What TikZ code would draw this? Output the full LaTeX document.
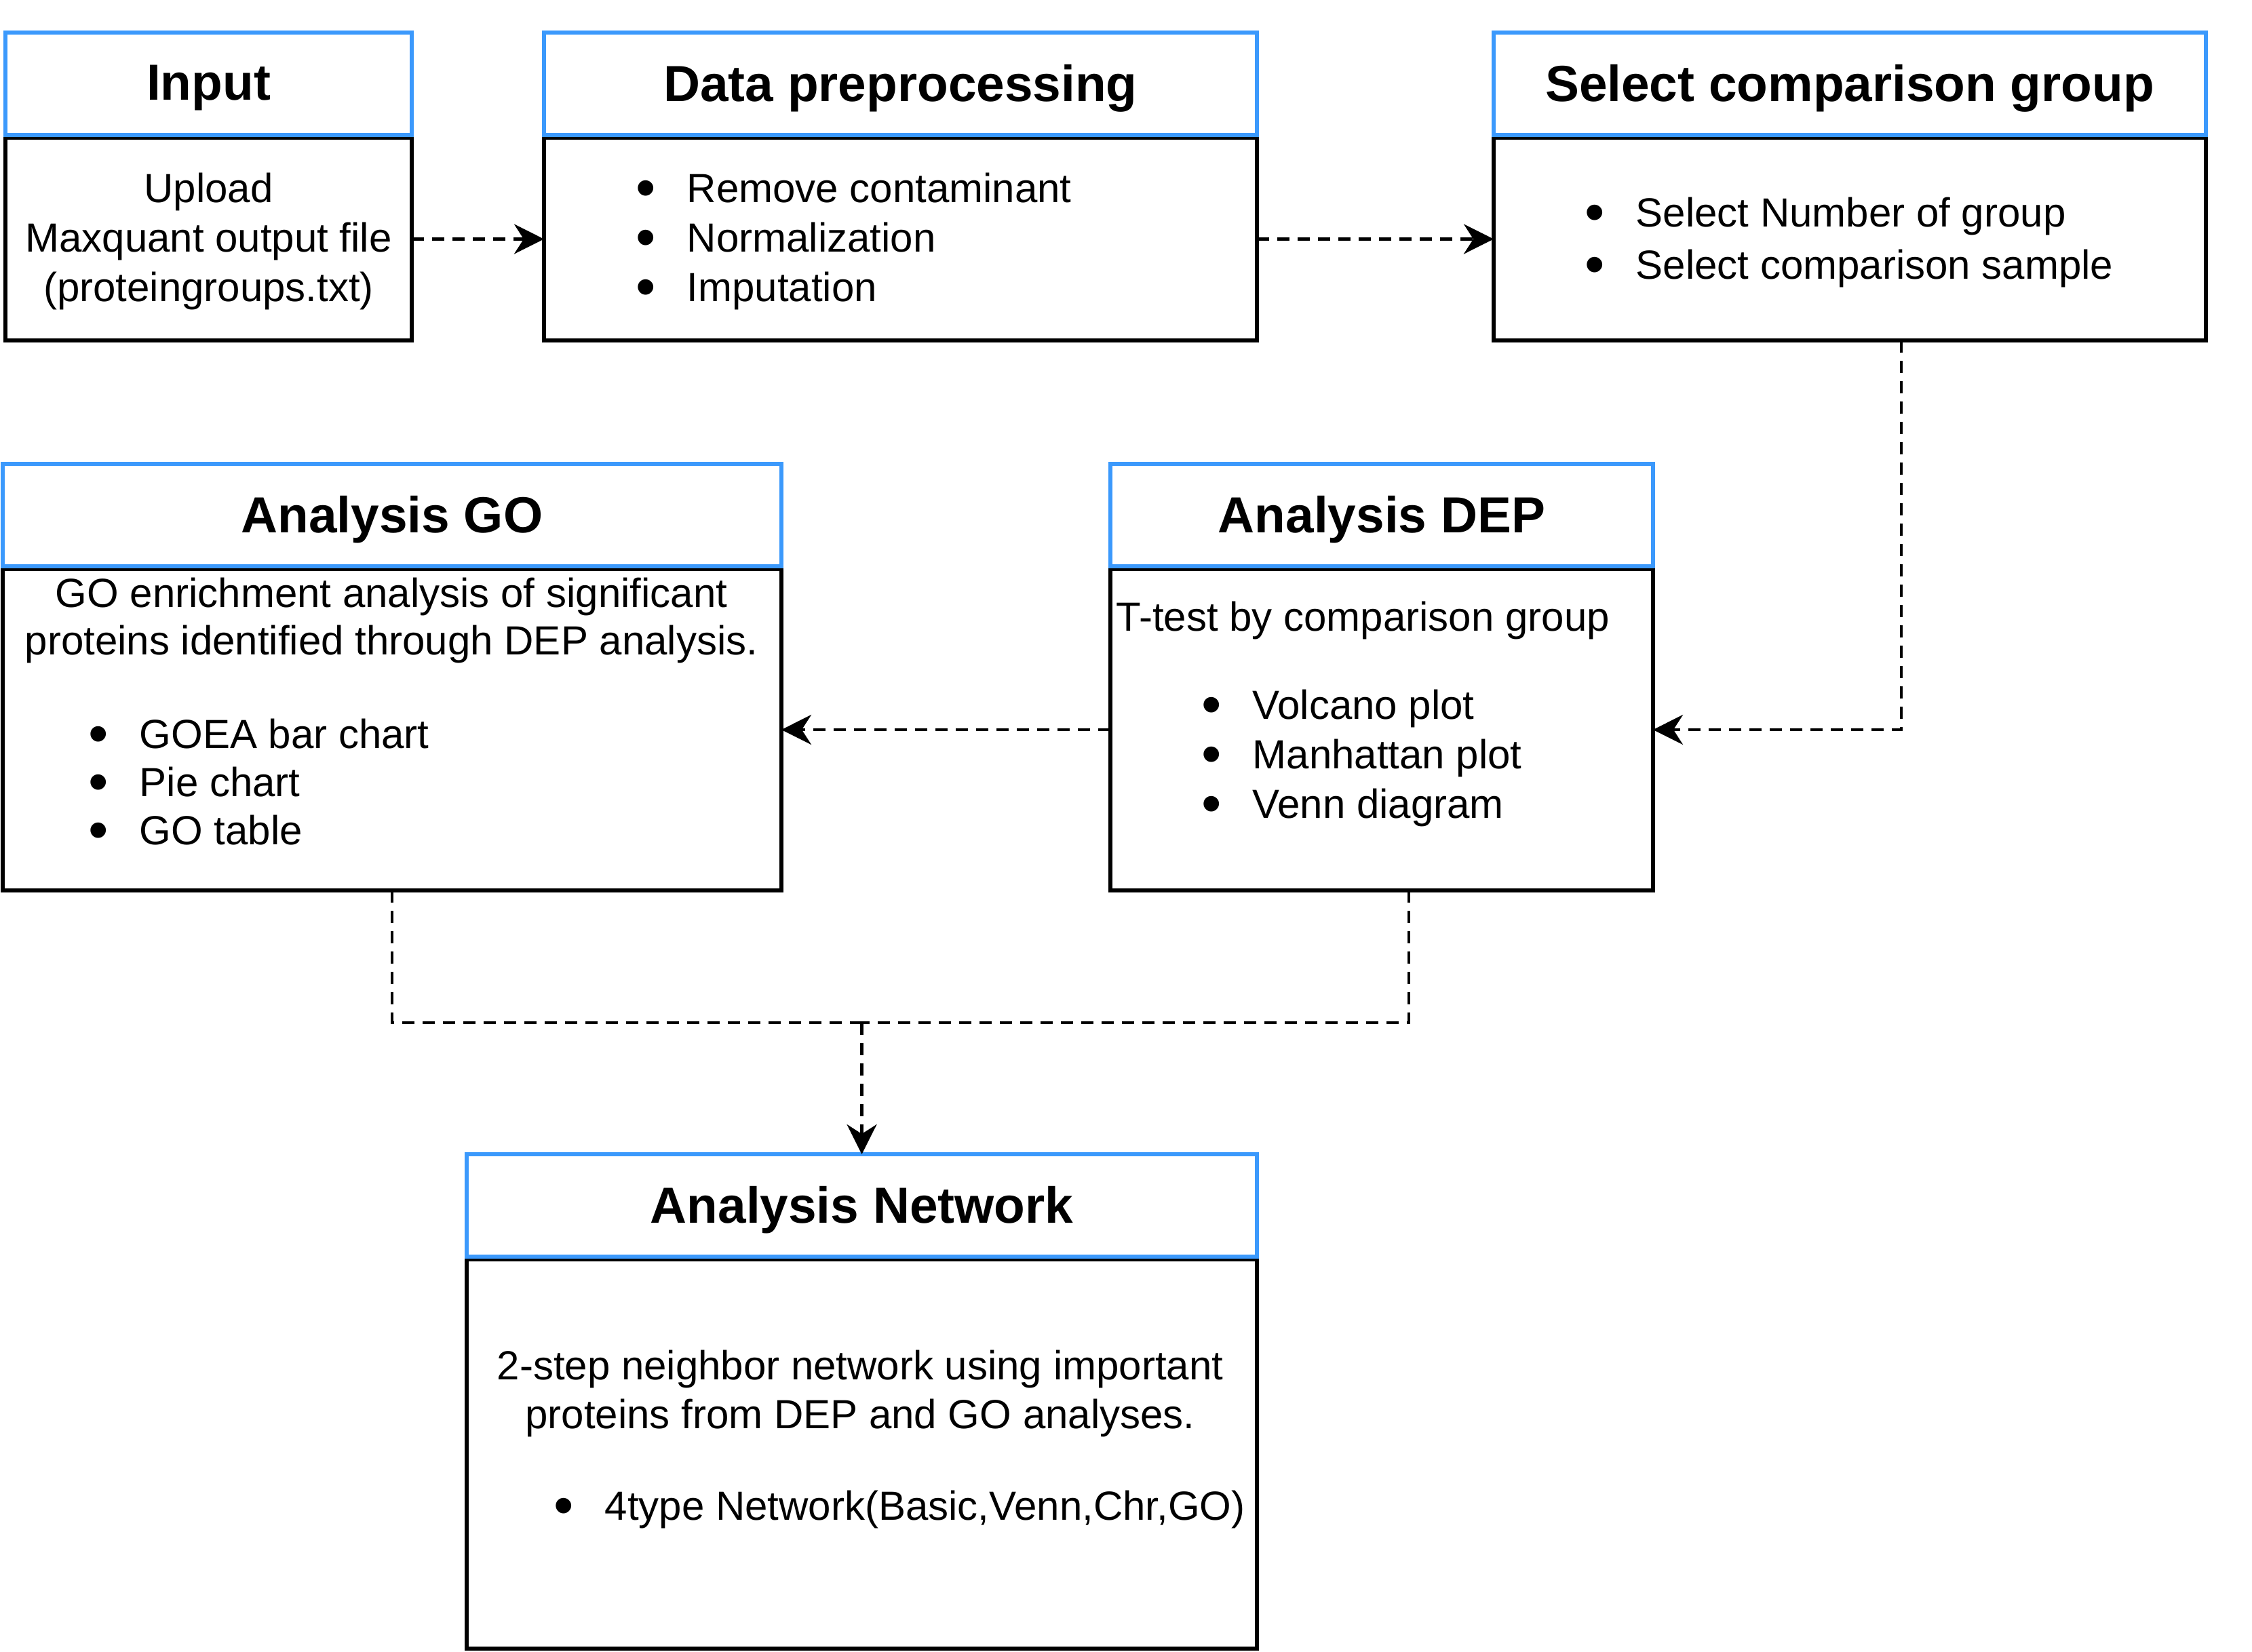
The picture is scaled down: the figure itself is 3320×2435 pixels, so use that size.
\documentclass[tikz,border=0pt]{standalone}
\usepackage{fontspec}
\setmainfont{Liberation Sans}
\usetikzlibrary{arrows.meta}
\definecolor{hblue}{RGB}{59,153,252}
\newcommand{\itm}{\makebox[17.75pt][l]{\hspace*{-1pt}\raisebox{-1.8pt}[0pt][0pt]{\fontsize{21}{0}\selectfont\textbullet}}}
\begin{document}
\begin{tikzpicture}[x=0.25pt,y=-0.25pt,
  hdr/.style={draw=hblue,line width=1.4pt,inner sep=0pt,outer sep=0pt,minimum height=37.75pt},
  ttl/.style={inner sep=0pt,font=\fontsize{18.7}{22}\selectfont\bfseries},
  bdy/.style={draw=black,line width=1.4pt,inner sep=0pt,outer sep=0pt},
  txt/.style={inner sep=0pt,font=\fontsize{15}{18.25}\selectfont},
  conn/.style={line width=1.1pt,dash pattern=on 4.5pt off 3pt,-{Stealth[length=11pt,width=11pt,inset=3.5pt]}},
  link/.style={line width=1.1pt,dash pattern=on 4.5pt off 3pt}]
\useasboundingbox (0,0) rectangle (3320,2435);

% Input
\node[bdy,minimum width=149.75pt,minimum height=74.75pt] (inB) at (307.5,352.5) {};
\node[hdr,minimum width=149.75pt] (inH) at (307.5,123.5) {};
\node[ttl] (inHt) at (307.5,130) {Input};
\node[txt,align=center] (inT) at (307.5,356) {Upload\\Maxquant output file\\(proteingroups.txt)};

% Data preprocessing
\node[bdy,minimum width=262.75pt,minimum height=74.75pt] (dpB) at (1327.5,352.5) {};
\node[hdr,minimum width=262.75pt] (dpH) at (1327.5,123.5) {};
\node[ttl] (dpHt) at (1327.5,130) {Data preprocessing};
\node[txt,align=left,anchor=west] (dpT) at (941,356) {\itm Remove contaminant\\\itm Normalization\\\itm Imputation};

% Select comparison group
\node[bdy,minimum width=262.5pt,minimum height=74.75pt] (scB) at (2727,352.5) {};
\node[hdr,minimum width=262.5pt] (scH) at (2727,123.5) {};
\node[ttl] (scHt) at (2727,130) {Select comparison group};
\node[txt,align=left,anchor=west,font=\fontsize{15}{19.25}\selectfont] (scT) at (2340,357) {\itm Select Number of group\\\itm Select comparison sample};

% Analysis GO
\node[bdy,minimum width=287pt,minimum height=118.5pt] (goB) at (578,1076) {};
\node[hdr,minimum width=287pt] (goH) at (578,759.5) {};
\node[ttl] (goHt) at (578,766) {Analysis GO};
\node[txt,align=center,font=\fontsize{15}{17.5}\selectfont] (goT) at (577,915) {GO enrichment analysis of significant\\proteins identified through DEP analysis.};
\node[txt,align=left,anchor=west,font=\fontsize{15}{17.75}\selectfont] (goL) at (134,1153) {\itm GOEA bar chart\\\itm Pie chart\\\itm GO table};

% Analysis DEP
\node[bdy,minimum width=200pt,minimum height=118.5pt] (deB) at (2037,1076) {};
\node[hdr,minimum width=200pt] (deH) at (2037,759.5) {};
\node[ttl] (deHt) at (2037,766) {Analysis DEP};
\node[txt,anchor=west] (deT) at (1645,915) {T-test by comparison group};
\node[txt,align=left,anchor=west] (deL) at (1775,1118) {\itm Volcano plot\\\itm Manhattan plot\\\itm Venn diagram};

% Analysis Network
\node[bdy,minimum width=291.25pt,minimum height=143.5pt] (nwB) at (1270.5,2144) {};
\node[hdr,minimum width=291.25pt] (nwH) at (1270.5,1777.5) {};
\node[ttl] (nwHt) at (1270.5,1784) {Analysis Network};
\node[txt,align=center,font=\fontsize{15}{18}\selectfont] (nwT) at (1268,2055) {2-step neighbor network using important\\proteins from DEP and GO analyses.};
\node[txt,anchor=west] (nwL) at (820,2226) {\itm 4type Network(Basic,Venn,Chr,GO)};

% connectors
\coordinate (scOut) at (2803,502);
\coordinate (deOut) at (2077,1313);
\coordinate (join) at (1270.5,1508);

\draw[conn] (inB.east) -- (dpB.west);
\draw[conn] (dpB.east) -- (scB.west);
\draw[conn] (scOut) |- (deB.east);
\draw[conn] (deB.west) -- (goB.east);
\draw[link] (goB.south) |- (join);
\draw[link] (deOut) |- (join);
\draw[conn] (join) -- (nwH.north);
\end{tikzpicture}
\end{document}
